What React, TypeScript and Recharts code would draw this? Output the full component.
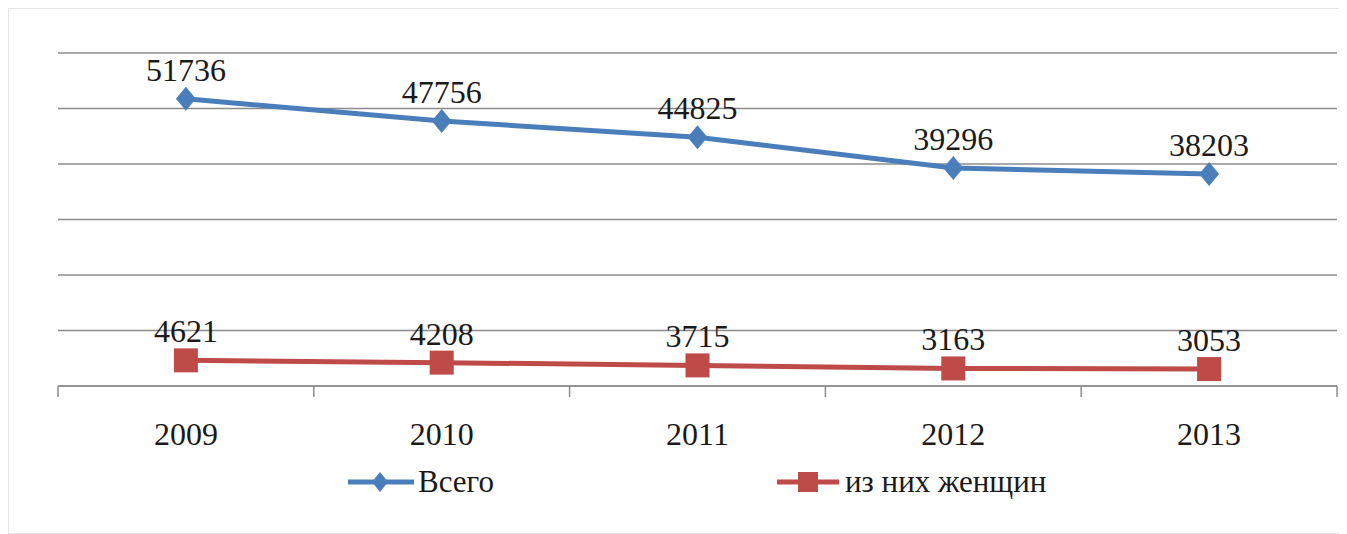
import React from 'react';
import { LineChart, Line, XAxis, YAxis, CartesianGrid, LabelList, Legend } from 'recharts';

const years = ['2009', '2010', '2011', '2012', '2013'];
const totalValues = [51736, 47756, 44825, 39296, 38203];
const womenValues = [4621, 4208, 3715, 3163, 3053];
const yTicks = [0, 10000, 20000, 30000, 40000, 50000, 60000];
const seriesNames = ['Всего', 'из них женщин'];

const BLUE = '#4a7ebb';
const RED = '#be4b48';
const GRID = '#8c8c8c';
const TEXT = '#1a1a1a';
const FONT = 'Liberation Serif';

const data = years.map((year, i) => ({ year, total: totalValues[i], women: womenValues[i] }));

const XTick = (props: any) => {
  const { x, y, payload, index } = props;
  const half = typeof payload.offset === 'number' && payload.offset > 0 ? payload.offset : 127.9;
  const last = index === years.length - 1;
  return (
    <g>
      <line x1={x - half} x2={x - half} y1={y} y2={y + 11} stroke={GRID} strokeWidth={1.5} />
      {last && <line x1={x + half} x2={x + half} y1={y} y2={y + 11} stroke={GRID} strokeWidth={1.5} />}
      <text x={x} y={y + 59} textAnchor="middle" fontSize={32} fontFamily={FONT} fill={TEXT}>
        {payload.value}
      </text>
    </g>
  );
};

const DiamondDot = (props: any) => {
  const { cx, cy } = props;
  if (cx == null || cy == null) return null;
  return <polygon points={`${cx},${cy - 12} ${cx + 10},${cy} ${cx},${cy + 12} ${cx - 10},${cy}`} fill={BLUE} />;
};

const SquareDot = (props: any) => {
  const { cx, cy } = props;
  if (cx == null || cy == null) return null;
  return <rect x={cx - 12} y={cy - 12} width={24} height={24} fill={RED} />;
};

const LegendContent = () => (
  <div style={{ position: 'relative', height: 40, width: 1334 }}>
    <div style={{ position: 'absolute', left: 339, top: 0, height: 40, display: 'flex', alignItems: 'center' }}>
      <svg width={66} height={30}>
        <line x1={0} x2={66} y1={15} y2={15} stroke={BLUE} strokeWidth={5} strokeLinecap="round" />
        <polygon points="32,5 40,15 32,25 24,15" fill={BLUE} />
      </svg>
      <span style={{ fontFamily: FONT, fontSize: 31, color: TEXT, marginLeft: 4 }}>{seriesNames[0]}</span>
    </div>
    <div style={{ position: 'absolute', left: 768, top: 0, height: 40, display: 'flex', alignItems: 'center' }}>
      <svg width={62} height={30}>
        <line x1={0} x2={62} y1={15} y2={15} stroke={RED} strokeWidth={5} strokeLinecap="round" />
        <rect x={21} y={5} width={20} height={20} fill={RED} />
      </svg>
      <span style={{ fontFamily: FONT, fontSize: 31, color: TEXT, marginLeft: 6 }}>{seriesNames[1]}</span>
    </div>
  </div>
);

export default function App() {
  return (
    <div style={{ width: 1334, height: 524, border: '1px solid #e6e6e6', background: '#fff', fontFamily: FONT }}>
      <LineChart width={1334} height={524} data={data} margin={{ top: 44, right: 6, left: 49, bottom: 31 }}>
        <CartesianGrid horizontal vertical={false} stroke={GRID} strokeWidth={1.5} />
        <YAxis hide domain={[0, 60000]} ticks={yTicks} type="number" />
        <XAxis
          dataKey="year"
          scale="band"
          height={76}
          axisLine={{ stroke: GRID, strokeWidth: 1.5 }}
          tickLine={false}
          tickSize={0}
          tickMargin={0}
          interval={0}
          tick={<XTick />}
        />
        <Legend verticalAlign="bottom" content={<LegendContent />} wrapperStyle={{ left: 0, width: 1334, height: 40 }} />
        <Line
          dataKey="total"
          name={seriesNames[0]}
          stroke={BLUE}
          strokeWidth={5}
          dot={<DiamondDot />}
          activeDot={false}
          isAnimationActive={false}
        >
          <LabelList dataKey="total" position="top" offset={18} fontSize={32} fontFamily={FONT} fill={TEXT} />
        </Line>
        <Line
          dataKey="women"
          name={seriesNames[1]}
          stroke={RED}
          strokeWidth={5}
          dot={<SquareDot />}
          activeDot={false}
          isAnimationActive={false}
        >
          <LabelList dataKey="women" position="top" offset={18} fontSize={32} fontFamily={FONT} fill={TEXT} />
        </Line>
      </LineChart>
    </div>
  );
}
